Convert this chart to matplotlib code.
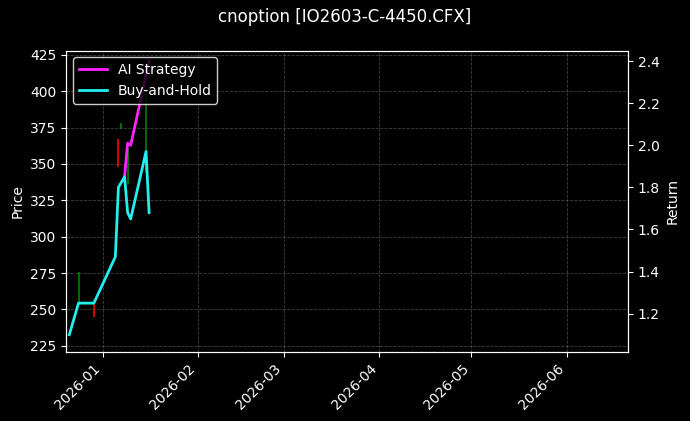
import matplotlib
matplotlib.use("Agg")
import matplotlib.pyplot as plt
import matplotlib.dates as mdates
import pandas as pd

plt.style.use("dark_background")

# candle wicks (date, low, high, up?)
candle_dates = pd.to_datetime(["2025-12-24", "2025-12-29", "2026-01-06", "2026-01-07", "2026-01-09", "2026-01-15"])
candle_low = [255, 245, 348, 374, 336, 344]
candle_high = [276, 254, 367, 378, 360, 398]
candle_up = [True, False, False, True, True, True]

bh_dates = pd.to_datetime(["2025-12-21", "2025-12-24", "2025-12-29", "2026-01-05", "2026-01-06",
                           "2026-01-08", "2026-01-09", "2026-01-10", "2026-01-15", "2026-01-16"])
bh_ret = [1.10, 1.25, 1.25, 1.47, 1.80, 1.85, 1.68, 1.65, 1.97, 1.68]

ai_dates = pd.to_datetime(["2026-01-08", "2026-01-09", "2026-01-10", "2026-01-13", "2026-01-16"])
ai_ret = [1.85, 2.01, 2.00, 2.20, 2.40]

fig, ax = plt.subplots(figsize=(6.9, 4.21), dpi=100)
fig.patch.set_facecolor("black")
ax.set_facecolor("black")
for d, lo, hi, up in zip(candle_dates, candle_low, candle_high, candle_up):
    ax.vlines(d, lo, hi, color="green" if up else "red", lw=1.2)
ax.set_ylim(221, 428)
ax.set_ylabel("Price")
ax.set_xlim(pd.Timestamp("2025-12-20"), pd.Timestamp("2026-06-21"))
ax.grid(True, linestyle="--", color="gray", alpha=0.5, lw=0.6)

ax2 = ax.twinx()
ax2.plot(ai_dates, ai_ret, color="#ff22ff", lw=2, label="AI Strategy")
ax2.plot(bh_dates, bh_ret, color="#22eeee", lw=2, label="Buy-and-Hold")
ax2.set_ylim(1.02, 2.45)
ax2.set_ylabel("Return")
ax2.legend(loc="upper left", facecolor="black", edgecolor="white")

ax.xaxis.set_major_locator(mdates.MonthLocator())
ax.xaxis.set_major_formatter(mdates.DateFormatter("%Y-%m"))
plt.setp(ax.get_xticklabels(), rotation=45, ha="right")
fig.suptitle("cnoption [IO2603-C-4450.CFX]")
fig.subplots_adjust(left=0.096, right=0.91, top=0.88, bottom=0.165)
fig.savefig("out.png", facecolor="black")
